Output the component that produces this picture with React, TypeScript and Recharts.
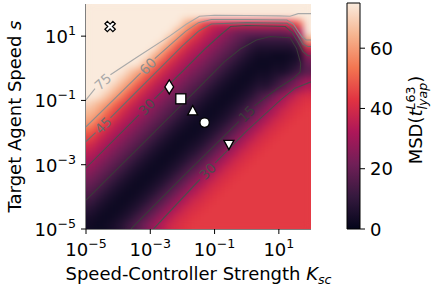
import React from 'react';
import { ScatterChart, Scatter, XAxis, YAxis, ComposedChart, ReferenceArea } from 'recharts';

// cell centres, as log10 exponents (0.25 decade cells)
const kscExp = [-4.875, -4.625, -4.375, -4.125, -3.875, -3.625, -3.375, -3.125, -2.875, -2.625, -2.375, -2.125, -1.875, -1.625,
  -1.375, -1.125, -0.875, -0.625, -0.375, -0.125, 0.125, 0.375, 0.625, 0.875, 1.125, 1.375, 1.625, 1.875];
// top row first
const speedExp = [1.875, 1.625, 1.375, 1.125, 0.875, 0.625, 0.375, 0.125, -0.125, -0.375, -0.625, -0.875, -1.125, -1.375,
  -1.625, -1.875, -2.125, -2.375, -2.625, -2.875, -3.125, -3.375, -3.625, -3.875, -4.125, -4.375, -4.625, -4.875];

// MSD values, one row per speedExp entry
const msd = [
  [85, 85, 85, 85, 85, 85, 85, 85, 85, 85, 85, 85, 85, 85, 85, 85, 85, 85, 85, 85, 85, 85, 85, 85, 85, 85, 85, 85],
  [85, 85, 85, 85, 85, 85, 85, 85, 85, 85, 85, 80, 74, 74, 74, 74, 74, 74, 74, 74, 74, 74, 74, 74, 74, 74, 78, 82],
  [85, 85, 85, 85, 85, 85, 85, 85, 85, 85, 80, 74, 64, 57, 46, 40, 38, 38, 38, 38, 38, 38, 38, 38, 38, 42, 50, 80],
  [85, 85, 85, 85, 85, 85, 85, 85, 85, 80, 74, 64, 57, 46, 40, 35, 31, 27, 23, 21, 21, 21, 21, 21, 21, 24, 32, 76],
  [85, 85, 85, 85, 85, 85, 85, 85, 80, 74, 64, 57, 46, 40, 35, 31, 27, 23, 19, 16, 12, 11, 11, 11, 11, 12, 18, 62],
  [85, 85, 85, 85, 85, 85, 85, 80, 74, 64, 57, 46, 40, 35, 31, 27, 23, 19, 16, 12, 8, 6, 6, 6, 6, 6, 10, 40],
  [85, 85, 85, 85, 85, 85, 80, 74, 64, 57, 46, 40, 35, 31, 27, 23, 19, 16, 12, 8, 5, 3, 3, 2, 2, 3, 5, 26],
  [85, 85, 85, 85, 85, 80, 74, 64, 57, 46, 40, 35, 31, 27, 23, 19, 16, 12, 8, 5, 3, 2, 2, 3, 3, 5, 8, 20],
  [85, 85, 82, 78, 74, 68, 62, 55, 46, 40, 35, 31, 27, 23, 19, 16, 12, 8, 5, 3, 2, 3, 3, 5, 5, 8, 13, 17],
  [85, 82, 78, 74, 68, 62, 55, 46, 40, 35, 31, 27, 23, 19, 16, 12, 8, 5, 3, 2, 3, 5, 5, 8, 13, 17, 23, 29],
  [82, 78, 74, 68, 62, 55, 46, 40, 35, 31, 27, 23, 19, 16, 12, 8, 5, 3, 2, 3, 5, 8, 8, 13, 17, 23, 29, 34],
  [78, 74, 68, 62, 55, 46, 40, 35, 31, 27, 23, 19, 16, 12, 8, 5, 3, 2, 3, 5, 8, 13, 17, 23, 29, 34, 39, 41],
  [70, 65, 61, 53, 46, 40, 35, 31, 27, 23, 19, 16, 12, 8, 5, 3, 2, 3, 5, 8, 13, 17, 23, 29, 34, 39, 41, 43],
  [65, 61, 53, 46, 40, 35, 31, 27, 23, 19, 16, 12, 8, 5, 3, 2, 3, 5, 8, 13, 17, 23, 29, 34, 39, 41, 43, 44],
  [61, 53, 46, 40, 35, 31, 27, 23, 19, 16, 12, 8, 5, 3, 2, 3, 5, 8, 13, 17, 23, 29, 34, 39, 41, 43, 44, 44],
  [53, 46, 40, 35, 31, 27, 23, 19, 16, 12, 8, 5, 3, 2, 3, 5, 8, 13, 17, 23, 29, 34, 39, 41, 43, 44, 44, 44],
  [46, 40, 35, 31, 27, 23, 19, 16, 12, 8, 5, 3, 2, 3, 5, 8, 13, 17, 23, 29, 34, 39, 41, 43, 44, 44, 44, 44],
  [40, 35, 31, 27, 23, 19, 16, 12, 8, 5, 3, 2, 3, 5, 8, 13, 17, 23, 29, 34, 39, 41, 43, 44, 44, 44, 44, 44],
  [35, 31, 27, 23, 19, 16, 12, 8, 5, 3, 2, 3, 5, 8, 13, 17, 23, 29, 34, 39, 41, 43, 44, 44, 44, 44, 44, 44],
  [31, 27, 23, 19, 16, 12, 8, 5, 3, 2, 3, 5, 8, 13, 17, 23, 29, 34, 39, 41, 43, 44, 44, 44, 44, 44, 44, 44],
  [27, 23, 19, 16, 12, 8, 5, 3, 2, 3, 5, 8, 13, 17, 23, 29, 34, 39, 41, 43, 44, 44, 44, 44, 44, 44, 44, 44],
  [23, 19, 16, 12, 8, 5, 3, 2, 3, 5, 8, 13, 17, 23, 29, 34, 39, 41, 43, 44, 44, 44, 44, 44, 44, 44, 44, 44],
  [19, 16, 12, 8, 5, 3, 2, 3, 5, 8, 13, 17, 23, 29, 34, 39, 41, 43, 44, 44, 44, 44, 44, 44, 44, 44, 44, 44],
  [16, 12, 8, 5, 3, 2, 3, 5, 8, 13, 17, 23, 29, 34, 39, 41, 43, 44, 44, 44, 44, 44, 44, 44, 44, 44, 44, 44],
  [12, 8, 5, 3, 2, 3, 5, 8, 13, 17, 23, 29, 34, 39, 41, 43, 44, 44, 44, 44, 44, 44, 44, 44, 44, 44, 44, 44],
  [8, 5, 3, 2, 3, 5, 8, 13, 17, 23, 29, 34, 39, 41, 43, 44, 44, 44, 44, 44, 44, 44, 44, 44, 44, 44, 44, 44],
  [5, 3, 2, 3, 5, 8, 13, 17, 23, 29, 34, 39, 41, 43, 44, 44, 44, 44, 44, 44, 44, 44, 44, 44, 44, 44, 44, 44],
  [3, 2, 3, 5, 8, 13, 17, 23, 29, 34, 39, 41, 43, 44, 44, 44, 44, 44, 44, 44, 44, 44, 44, 44, 44, 44, 44, 44],
];

// contour lines, as segments of [log10 Ksc, log10 s] points (broken where a label sits)
const contour75 = [
  [[-5, -0.98], [-4.72, -0.63]],
  [[-4.24, -0.2], [-3.44, 0.33], [-2.4, 1.0], [-1.88, 1.37], [-1.47, 1.62], [-1.0, 1.65], [0, 1.64], [1.0, 1.63], [1.35, 1.62], [1.6, 1.7], [2, 1.7]],
];
const contour60 = [
  [[-5, -1.82], [-3.3, -0.15]],
  [[-2.86, 0.3], [-2.3, 0.8], [-1.9, 1.15], [-1.5, 1.42], [-1.1, 1.52], [0, 1.52], [1.25, 1.5], [1.45, 1.38], [1.6, 1.15], [1.72, 0.98], [1.85, 0.88], [2, 0.88]],
];
const contour45 = [
  [[-5, -2.28], [-4.7, -2.0]],
  [[-4.24, -1.54], [-3.5, -0.8], [-2.7, 0.0], [-2.0, 0.7], [-1.5, 1.15], [-1.1, 1.38], [0, 1.42], [1.25, 1.4], [1.45, 1.25], [1.6, 1.0], [1.75, 0.75], [1.9, 0.68], [2, 0.68]],
];
const contour30 = [
  [[-5, -3.1], [-3.35, -1.45]],
  [[-2.87, -0.95], [-2.0, -0.1], [-1.3, 0.6], [-0.8, 1.05], [-0.5, 1.3], [0, 1.33], [1.2, 1.3], [1.42, 1.1], [1.6, 0.8], [1.75, 0.52], [1.9, 0.4], [2, 0.38]],
  [[-2.9, -5.0], [-1.46, -3.46]],
  [[-0.98, -2.94], [0, -1.95], [1.04, -1.0], [1.5, -0.62], [2, -0.42]],
];
const contour15 = [
  [[-5, -4.1], [-2.41, -1.52], [-1.48, -0.59], [-0.7, 0.2], [-0.2, 0.6], [0.3, 0.88], [0.73, 0.99], [1.35, 0.95], [1.55, 0.62],
    [1.68, 0.15], [1.66, -0.12], [1.45, -0.32], [1.0, -0.6], [0.24, -1.17]],
  [[-0.24, -1.65], [-1.88, -3.27], [-3.6, -5.0]],
];

const contourLabels = [
  { u: -4.48, v: -0.41, level: 75 },
  { u: -3.08, v: 0.07, level: 60 },
  { u: -4.47, v: -1.77, level: 45 },
  { u: -3.11, v: -1.2, level: 30 },
  { u: 0, v: -1.41, level: 15 },
  { u: -1.22, v: -3.2, level: 30 },
];
const labelAngles = [-42, -45, -45, -46, -45, -45];

const markers = [
  { u: -4.25, v: 1.3, kind: 'X' },
  { u: -2.41, v: -0.58, kind: 'diamond' },
  { u: -2.05, v: -0.95, kind: 'square' },
  { u: -1.68, v: -1.33, kind: 'triUp' },
  { u: -1.31, v: -1.69, kind: 'circle' },
  { u: -0.555, v: -2.36, kind: 'triDown' },
];

const kscTicks = [-5, -3, -1, 1];
const speedTicks = [-5, -3, -1, 1];
const cbarTicks = [0, 20, 40, 60];
const cbarMax = 75;

const rocketStops = ['#03051a', '#35193e', '#701f57', '#ad1759', '#e13342', '#f37651', '#f6b48f', '#faebdd'];
const levelColor: Record<number, string> = { 75: '#a9a9a9', 60: '#8c8c8c', 45: '#6c6c6c', 30: '#4c4c4c', 15: '#3a3a3a' };

const FONT = 'DejaVu Sans';
const PLOT_PX = 225;

function hexRgb(h: string) {
  return [parseInt(h.slice(1, 3), 16), parseInt(h.slice(3, 5), 16), parseInt(h.slice(5, 7), 16)];
}
function rocket(t: number) {
  const n = rocketStops.length - 1;
  const x = Math.max(0, Math.min(1, t)) * n;
  const i = Math.min(Math.floor(x), n - 1);
  const f = x - i;
  const a = hexRgb(rocketStops[i]);
  const b = hexRgb(rocketStops[i + 1]);
  const c = a.map((va, k) => Math.round(va + (b[k] - va) * f));
  return `rgb(${c[0]},${c[1]},${c[2]})`;
}

const cells = msd.flatMap((row, r) => row.map((z, c) => ({ u: kscExp[c], v: speedExp[r], z })));

const contourSeries = [
  { level: 75, segs: contour75 },
  { level: 60, segs: contour60 },
  { level: 45, segs: contour45 },
  { level: 30, segs: contour30 },
  { level: 15, segs: contour15 },
].flatMap((c) => c.segs.map((s) => ({ level: c.level, data: s.map(([u, v]) => ({ u, v })) })));

const labelPoints = contourLabels.map((l, i) => ({ ...l, angle: labelAngles[i] }));

const HeatCell = (p: any) => {
  const s = PLOT_PX / kscExp.length;
  return <rect x={p.cx - s / 2} y={p.cy - s / 2} width={s} height={s} fill={rocket(p.payload.z / cbarMax)} shapeRendering="crispEdges" />;
};

const NoDot = () => <g />;

const ContourLabel = (p: any) => {
  const d = p.payload;
  return (
    <text x={p.cx} y={p.cy} transform={`rotate(${d.angle} ${p.cx} ${p.cy})`} textAnchor="middle" dominantBaseline="central"
      fontSize={13.5} fontFamily={FONT} fill={levelColor[d.level]}>
      {d.level}
    </text>
  );
};

const Marker = (p: any) => {
  const { cx, cy } = p;
  const st = { fill: '#fff', stroke: '#000', strokeWidth: 1.3 };
  switch (p.payload.kind) {
    case 'X': {
      const h = 1.7, L = 5.6;
      const pts = [[-h, -L], [h, -L], [h, -h], [L, -h], [L, h], [h, h], [h, L], [-h, L], [-h, h], [-L, h], [-L, -h], [-h, -h]];
      return <polygon points={pts.map((q) => q.join(',')).join(' ')} transform={`translate(${cx} ${cy}) rotate(45)`} {...st} />;
    }
    case 'diamond':
      return <polygon points={`${cx},${cy - 7} ${cx + 4.4},${cy} ${cx},${cy + 7} ${cx - 4.4},${cy}`} {...st} />;
    case 'square':
      return <rect x={cx - 5} y={cy - 5} width={10} height={10} {...st} />;
    case 'triUp':
      return <polygon points={`${cx},${cy - 5.5} ${cx + 5},${cy + 3.8} ${cx - 5},${cy + 3.8}`} {...st} />;
    case 'triDown':
      return <polygon points={`${cx},${cy + 5.5} ${cx + 5},${cy - 3.8} ${cx - 5},${cy - 3.8}`} {...st} />;
    default:
      return <circle cx={cx} cy={cy} r={4.7} {...st} />;
  }
};

const sup = (v: number) => String(v).replace('-', '\u2212');

const PowTickX = (p: any) => (
  <text x={p.x} y={p.y + 20} textAnchor="middle" fontSize={18} fontFamily={FONT} fill="#000">
    10<tspan dy={-8} fontSize={12.6}>{sup(p.payload.value)}</tspan>
  </text>
);

const PowTickY = (p: any) => (
  <text x={p.x - 3} y={p.y + 7} textAnchor="end" fontSize={18} fontFamily={FONT} fill="#000">
    10<tspan dy={-8} fontSize={12.6}>{sup(p.payload.value)}</tspan>
  </text>
);

const CbarTick = (p: any) => (
  <text x={p.x + 3} y={p.y + 6.5} textAnchor="start" fontSize={18} fontFamily={FONT} fill="#000">
    {p.payload.value}
  </text>
);

const XTitle = (p: any) => {
  const vb = p.viewBox;
  return (
    <text x={vb.x + vb.width / 2} y={vb.y + 51} textAnchor="middle" fontSize={18} fontFamily={FONT} fill="#000">
      Speed-Controller Strength <tspan fontStyle="italic">K</tspan>
      <tspan fontStyle="italic" fontSize={12.6} dy={4}>sc</tspan>
    </text>
  );
};

const YTitle = (p: any) => {
  const vb = p.viewBox;
  const x = vb.x - 5;
  const y = vb.y + vb.height / 2;
  return (
    <text x={x} y={y} transform={`rotate(-90 ${x} ${y})`} textAnchor="middle" fontSize={18} fontFamily={FONT} fill="#000">
      Target Agent Speed <tspan fontStyle="italic">s</tspan>
    </text>
  );
};

const CbarTitle = (p: any) => {
  const vb = p.viewBox;
  const x = vb.x + 62;
  const y = vb.y + vb.height / 2 + 4;
  return (
    <text x={x} y={y} transform={`rotate(-90 ${x} ${y})`} textAnchor="middle" fontSize={18} fontFamily={FONT} fill="#000">
      MSD(<tspan fontStyle="italic">t</tspan>
      <tspan dy={-7} fontSize={12.6} fontStyle="italic">L</tspan>
      <tspan fontSize={12.6}>63</tspan>
      <tspan dx={-23} dy={12} fontSize={12.6} fontStyle="italic">lyap</tspan>
      <tspan dy={-5}>)</tspan>
    </text>
  );
};

const cbarData = [{ x: 0.5, y: 0 }];

export default function App() {
  return (
    <div style={{ position: 'absolute', left: 0, top: 0, width: 433, height: 292, background: '#fff' }}>
      <style>{`.heat { filter: url(#smooth); }`}</style>
      <svg width={0} height={0} style={{ position: 'absolute' }}>
        <defs>
          <linearGradient id="rocketGrad" x1="0" y1="1" x2="0" y2="0">
            {rocketStops.map((c, i) => (
              <stop key={i} offset={i / (rocketStops.length - 1)} stopColor={c} />
            ))}
          </linearGradient>
          <filter id="smooth" x="0" y="0" width="1" height="1" colorInterpolationFilters="sRGB">
            <feGaussianBlur stdDeviation="3.5" />
            <feComponentTransfer>
              <feFuncA type="table" tableValues="1 1" />
            </feComponentTransfer>
          </filter>
        </defs>
      </svg>
      <div style={{ position: 'absolute', left: 0, top: 0 }}>
        <ScatterChart width={433} height={292} margin={{ top: 4, right: 122, bottom: 0, left: 26 }}>
          <XAxis type="number" dataKey="u" domain={[-5, 2]} ticks={kscTicks} interval={0} height={63} tickSize={5}
            stroke="#000" tick={PowTickX} label={<XTitle />} allowDataOverflow />
          <YAxis type="number" dataKey="v" domain={[-5, 2]} ticks={speedTicks} interval={0} width={60} tickSize={5}
            stroke="#000" tick={PowTickY} label={<YTitle />} allowDataOverflow />
          <XAxis xAxisId="top" orientation="top" type="number" domain={[-5, 2]} height={0} tick={false} tickLine={false} stroke="#000" />
          <YAxis yAxisId="right" orientation="right" type="number" domain={[-5, 2]} width={0} tick={false} tickLine={false} stroke="#000" />
          <Scatter className="heat" data={cells} shape={HeatCell} isAnimationActive={false} />
          {contourSeries.map((s, i) => (
            <Scatter key={i} data={s.data} shape={NoDot} line={{ stroke: levelColor[s.level], strokeWidth: 1.1 }}
              lineJointType="linear" isAnimationActive={false} />
          ))}
          <Scatter data={labelPoints} shape={ContourLabel} isAnimationActive={false} />
          <Scatter data={markers} shape={Marker} isAnimationActive={false} />
        </ScatterChart>
      </div>
      <div style={{ position: 'absolute', left: 300, top: 0 }}>
        <ComposedChart width={133} height={292} data={cbarData} margin={{ top: 3, right: 0, bottom: 63, left: 47 }}>
          <XAxis type="number" dataKey="x" domain={[0, 1]} hide />
          <YAxis type="number" dataKey="y" orientation="right" domain={[0, cbarMax]} ticks={cbarTicks} interval={0} width={73}
            tickSize={5} axisLine={false} stroke="#000" tick={CbarTick} label={<CbarTitle />} />
          <ReferenceArea x1={0} x2={1} y1={0} y2={cbarMax} fill="url(#rocketGrad)" fillOpacity={1} stroke="#000" strokeWidth={1} />
        </ComposedChart>
      </div>
    </div>
  );
}
